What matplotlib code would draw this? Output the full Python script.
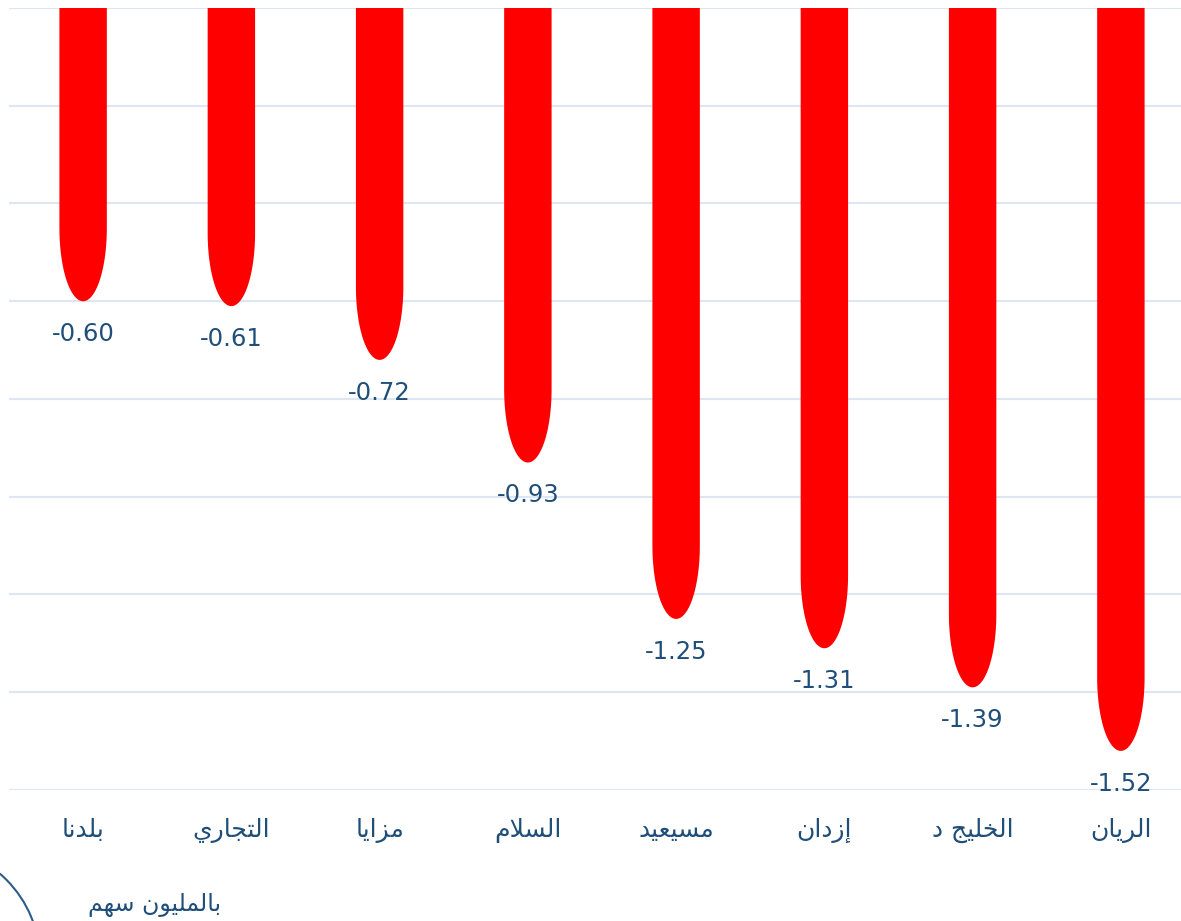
import matplotlib
matplotlib.use("Agg")
import numpy as np
import matplotlib.pyplot as plt
from matplotlib.patches import Arc, Polygon

# data
names = ["بلدنا", "التجاري", "مزايا", "السلام", "مسيعيد", "إزدان", "الخليج د", "الريان"]
values = [-0.60, -0.61, -0.72, -0.93, -1.25, -1.31, -1.39, -1.52]
unit_label = "بالمليون سهم"
grid_ticks = [0, -0.2, -0.4, -0.6, -0.8, -1.0, -1.2, -1.4, -1.6]

# small arabic shaper: matplotlib draws left to right with no joining
# forms: isolated, final, initial, medial
FORMS = {
    "\u0627": ("\uFE8D", "\uFE8E", None, None),
    "\u0625": ("\uFE87", "\uFE88", None, None),
    "\u0628": ("\uFE8F", "\uFE90", "\uFE91", "\uFE92"),
    "\u062A": ("\uFE95", "\uFE96", "\uFE97", "\uFE98"),
    "\u062C": ("\uFE9D", "\uFE9E", "\uFE9F", "\uFEA0"),
    "\u062E": ("\uFEA5", "\uFEA6", "\uFEA7", "\uFEA8"),
    "\u062F": ("\uFEA9", "\uFEAA", None, None),
    "\u0631": ("\uFEAD", "\uFEAE", None, None),
    "\u0632": ("\uFEAF", "\uFEB0", None, None),
    "\u0633": ("\uFEB1", "\uFEB2", "\uFEB3", "\uFEB4"),
    "\u0639": ("\uFEC9", "\uFECA", "\uFECB", "\uFECC"),
    "\u0644": ("\uFEDD", "\uFEDE", "\uFEDF", "\uFEE0"),
    "\u0645": ("\uFEE1", "\uFEE2", "\uFEE3", "\uFEE4"),
    "\u0646": ("\uFEE5", "\uFEE6", "\uFEE7", "\uFEE8"),
    "\u0647": ("\uFEE9", "\uFEEA", "\uFEEB", "\uFEEC"),
    "\u0648": ("\uFEED", "\uFEEE", None, None),
    "\u064A": ("\uFEF1", "\uFEF2", "\uFEF3", "\uFEF4"),
}
LAMALEF = {"\u0627": ("\uFEFB", "\uFEFC"), "\u0625": ("\uFEF9", "\uFEFA")}


def shape(s):
    # merge lam + alef first
    units = []
    i = 0
    while i < len(s):
        c = s[i]
        if c == "\u0644" and i + 1 < len(s) and s[i + 1] in LAMALEF:
            units.append(("LA", s[i + 1]))
            i += 2
        else:
            units.append(("C", c))
            i += 1

    def joins_fwd(u):
        if u[0] == "LA":
            return False
        f = FORMS.get(u[1])
        return f is not None and f[2] is not None

    def is_ar(u):
        return u[0] == "LA" or u[1] in FORMS

    out = []
    for k, u in enumerate(units):
        prev = units[k - 1] if k > 0 else None
        nxt = units[k + 1] if k + 1 < len(units) else None
        jp = prev is not None and joins_fwd(prev) and is_ar(u)
        if u[0] == "LA":
            out.append(LAMALEF[u[1]][1 if jp else 0])
            continue
        c = u[1]
        if c not in FORMS:
            out.append(c)
            continue
        jn = joins_fwd(u) and nxt is not None and is_ar(nxt)
        f = FORMS[c]
        if jp and jn:
            out.append(f[3])
        elif jp:
            out.append(f[1])
        elif jn:
            out.append(f[2])
        else:
            out.append(f[0])
    return "".join(out)[::-1]


plt.rcParams["font.family"] = ["DejaVu Sans"]
text_color = "#1F4E79"
bar_color = "#FF0000"

fig = plt.figure(figsize=(11.81, 9.21), dpi=100)
ax = fig.add_axes([9 / 1181, 131 / 921, 1186 / 1181, 782 / 921])

x = list(range(len(values)))
w = 0.32
cap = 0.15
t = np.linspace(np.pi, 2 * np.pi, 60)

for xi, v in zip(x, values):
    # bar with a rounded (half ellipse) end
    ex = xi + (w / 2) * np.cos(t)
    ey = (v + cap) + cap * np.sin(t)
    pts = [(xi - w / 2, 0)] + list(zip(ex, ey)) + [(xi + w / 2, 0)]
    ax.add_patch(Polygon(pts, closed=True, facecolor=bar_color, edgecolor="none", zorder=3))
    ax.annotate(f"{v:.2f}", (xi, v), xytext=(0, -15), textcoords="offset points",
                ha="center", va="top", fontsize=17.5, color=text_color)

ax.set_xlim(-0.5, len(values) - 0.5)
ax.set_ylim(-1.6, 0)
ax.set_yticks(grid_ticks)
ax.set_yticklabels([])
ax.tick_params(axis="y", length=0)
ax.grid(axis="y", color="#DCE7F3", lw=1.5, zorder=0)
ax.set_xticks(x)
ax.set_xticklabels([shape(n) for n in names], fontsize=18, color=text_color)
ax.tick_params(axis="x", length=0, pad=20)
for sp in ax.spines.values():
    sp.set_visible(False)

fig.text(155 / 1181, 1 - 905 / 921, shape(unit_label), ha="center", va="center",
         fontsize=17, color=text_color)

# decorative arc in the corner
arc = Arc((-75 / 1181, -40 / 921), 230 / 1181, 230 / 921, theta1=0, theta2=90,
          transform=fig.transFigure, color="#2E5C8A", lw=1.5)
fig.add_artist(arc)

fig.savefig("out.png", dpi=100)
